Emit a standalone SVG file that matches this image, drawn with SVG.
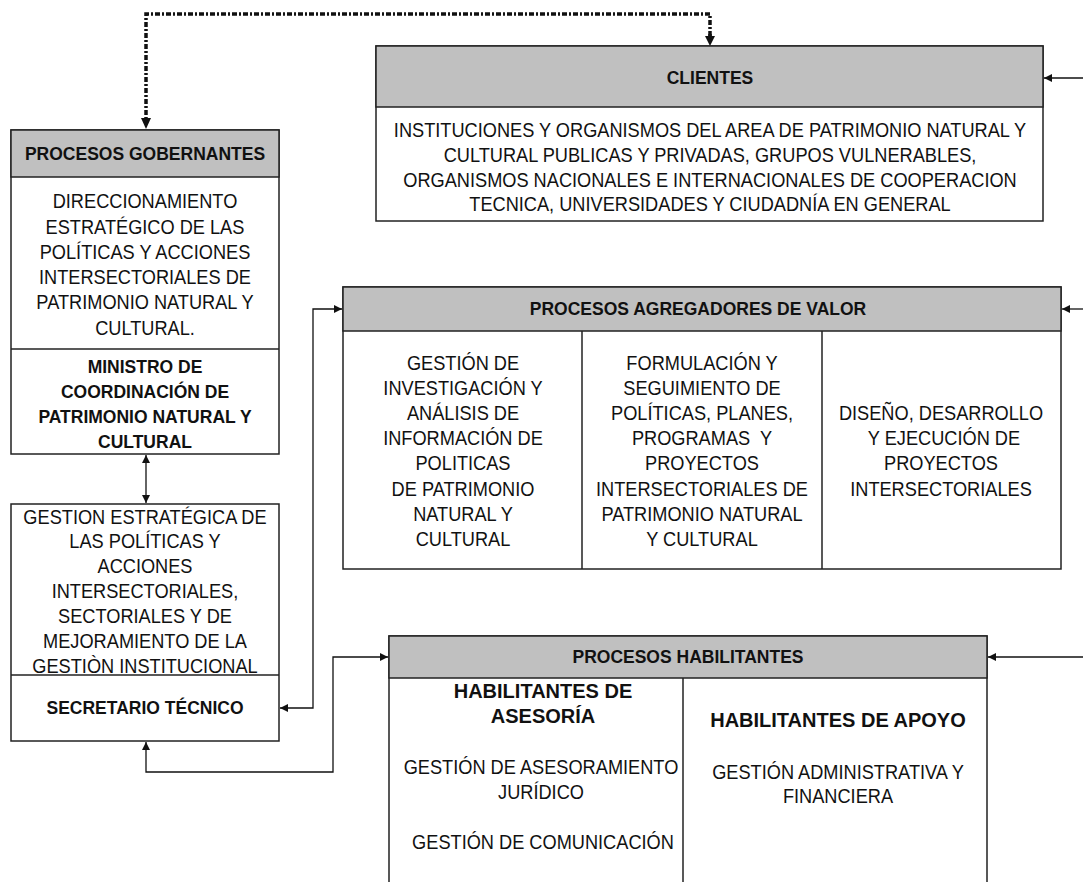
<svg xmlns="http://www.w3.org/2000/svg" width="1083" height="882" viewBox="0 0 1083 882">
  <style>
    .box { fill: #ffffff; stroke: #222222; stroke-width: 1.5; }
    .head { fill: #c0c0c0; stroke: #222222; stroke-width: 1.5; }
    .rule { stroke: #222222; stroke-width: 1.5; fill: none; }
    .hd { font-family: "Liberation Sans", Arial, sans-serif; font-weight: bold; font-size: 17.5px; fill: #111111; text-anchor: middle; }
    .bd { font-family: "Liberation Sans", Arial, sans-serif; font-size: 20px; fill: #111111; text-anchor: middle;
          transform: scaleX(0.91); transform-box: fill-box; transform-origin: center; }
    .bb { font-family: "Liberation Sans", Arial, sans-serif; font-weight: bold; font-size: 20px; fill: #111111; text-anchor: middle; }
    .link { fill: none; stroke: #111111; stroke-width: 1.3; }
    .dash { fill: none; stroke: #111111; stroke-width: 3.5; stroke-dasharray: 5 2 2 2; }
  </style>
  <defs>
    <marker id="tip" viewBox="0 0 10 10" refX="10" refY="5" markerWidth="8" markerHeight="8" markerUnits="userSpaceOnUse" orient="auto-start-reverse">
      <path d="M0,0 L10,5 L0,10 z" fill="#111111"/>
    </marker>
    <marker id="tipBig" viewBox="0 0 10 10" refX="10" refY="5" markerWidth="10" markerHeight="10" markerUnits="userSpaceOnUse" orient="auto">
      <path d="M0,0 L10,5 L0,10 z" fill="#111111"/>
    </marker>
  </defs>

  <!-- connectors -->
  <g id="connectors">
    <path class="dash" d="M710,36 V14 H146 V118"/>
    <path d="M141,118 H151 L146,129 z" fill="#111111"/>
    <line class="dash" x1="710" y1="34" x2="710" y2="38"/>
    <path d="M705,36 H715 L710,46 z" fill="#111111"/>
    <line class="link" x1="1083" y1="78" x2="1044" y2="78" marker-end="url(#tip)"/>
    <line class="link" x1="1083" y1="309" x2="1062" y2="309" marker-end="url(#tip)"/>
    <line class="link" x1="1083" y1="657" x2="988" y2="657" marker-end="url(#tip)"/>
    <line class="link" x1="146" y1="455" x2="146" y2="503" marker-start="url(#tip)" marker-end="url(#tip)"/>
    <path class="link" d="M280,708 H313 V309 H342" marker-start="url(#tip)" marker-end="url(#tip)"/>
    <path class="link" d="M146,742 V772 H333 V657 H388" marker-start="url(#tip)" marker-end="url(#tip)"/>
  </g>

  <!-- governing processes -->
  <g id="gobernantes">
    <rect class="box" x="11" y="130" width="268" height="324"/>
    <rect class="head" x="11" y="130" width="268" height="47"/>
    <line class="rule" x1="11" y1="349" x2="279" y2="349"/>
    <text class="hd" x="145" y="160">PROCESOS GOBERNANTES</text>
    <text class="bd" x="145" y="208">DIRECCIONAMIENTO</text>
    <text class="bd" x="145" y="234">ESTRATÉGICO DE LAS</text>
    <text class="bd" x="145" y="259">POLÍTICAS Y ACCIONES</text>
    <text class="bd" x="145" y="284">INTERSECTORIALES DE</text>
    <text class="bd" x="145" y="309">PATRIMONIO NATURAL Y</text>
    <text class="bd" x="145" y="335">CULTURAL.</text>
    <text class="hd" x="145" y="373">MINISTRO DE</text>
    <text class="hd" x="145" y="398">COORDINACIÓN DE</text>
    <text class="hd" x="145" y="423">PATRIMONIO NATURAL Y</text>
    <text class="hd" x="145" y="448">CULTURAL</text>
  </g>

  <!-- technical secretary -->
  <g id="secretario">
    <rect class="box" x="11" y="504" width="268" height="237"/>
    <line class="rule" x1="11" y1="675" x2="279" y2="675"/>
    <text class="bd" x="145" y="524">GESTION ESTRATÉGICA DE</text>
    <text class="bd" x="145" y="548">LAS POLÍTICAS Y</text>
    <text class="bd" x="145" y="573">ACCIONES</text>
    <text class="bd" x="145" y="598">INTERSECTORIALES,</text>
    <text class="bd" x="145" y="623">SECTORIALES Y DE</text>
    <text class="bd" x="145" y="648">MEJORAMIENTO DE LA</text>
    <text class="bd" x="145" y="673">GESTIÒN INSTITUCIONAL</text>
    <text class="hd" x="145" y="714">SECRETARIO TÉCNICO</text>
  </g>

  <!-- clients -->
  <g id="clientes">
    <rect class="box" x="376" y="46" width="667" height="175"/>
    <rect class="head" x="376" y="46" width="667" height="61"/>
    <text class="hd" x="710" y="84">CLIENTES</text>
    <text class="bd" x="710" y="137">INSTITUCIONES Y ORGANISMOS DEL AREA DE PATRIMONIO NATURAL Y</text>
    <text class="bd" x="710" y="162">CULTURAL PUBLICAS Y PRIVADAS, GRUPOS VULNERABLES,</text>
    <text class="bd" x="710" y="187">ORGANISMOS NACIONALES E INTERNACIONALES DE COOPERACION</text>
    <text class="bd" x="710" y="211">TECNICA, UNIVERSIDADES Y CIUDADNÍA EN GENERAL</text>
  </g>

  <!-- value-adding processes -->
  <g id="agregadores">
    <rect class="box" x="343" y="287" width="718" height="282"/>
    <rect class="head" x="343" y="287" width="718" height="44"/>
    <line class="rule" x1="582" y1="331" x2="582" y2="569"/>
    <line class="rule" x1="822" y1="331" x2="822" y2="569"/>
    <text class="hd" x="698" y="315">PROCESOS AGREGADORES DE VALOR</text>
    <text class="bd" x="463" y="370">GESTIÓN DE</text>
    <text class="bd" x="463" y="395">INVESTIGACIÓN Y</text>
    <text class="bd" x="463" y="420">ANÁLISIS DE</text>
    <text class="bd" x="463" y="445">INFORMACIÓN DE</text>
    <text class="bd" x="463" y="470">POLITICAS</text>
    <text class="bd" x="463" y="496">DE PATRIMONIO</text>
    <text class="bd" x="463" y="521">NATURAL Y</text>
    <text class="bd" x="463" y="546">CULTURAL</text>
    <text class="bd" x="702" y="370">FORMULACIÓN Y</text>
    <text class="bd" x="702" y="395">SEGUIMIENTO DE</text>
    <text class="bd" x="702" y="420">POLÍTICAS, PLANES,</text>
    <text class="bd" x="702" y="445" xml:space="preserve">PROGRAMAS  Y</text>
    <text class="bd" x="702" y="470">PROYECTOS</text>
    <text class="bd" x="702" y="496">INTERSECTORIALES DE</text>
    <text class="bd" x="702" y="521">PATRIMONIO NATURAL</text>
    <text class="bd" x="702" y="546">Y CULTURAL</text>
    <text class="bd" x="941" y="420">DISEÑO, DESARROLLO</text>
    <text class="bd" x="944" y="445">Y EJECUCIÓN DE</text>
    <text class="bd" x="941" y="470">PROYECTOS</text>
    <text class="bd" x="941" y="496">INTERSECTORIALES</text>
  </g>

  <!-- enabling processes -->
  <g id="habilitantes">
    <path class="rule" d="M389,882 V636 H987 V882"/>
    <rect class="head" x="389" y="636" width="598" height="42"/>
    <line class="rule" x1="683" y1="678" x2="683" y2="882"/>
    <text class="hd" x="688" y="663">PROCESOS HABILITANTES</text>
    <text class="bb" x="543" y="698">HABILITANTES DE</text>
    <text class="bb" x="543" y="723">ASESORÍA</text>
    <text class="bd" x="541" y="774">GESTIÓN DE ASESORAMIENTO</text>
    <text class="bd" x="541" y="799">JURÍDICO</text>
    <text class="bd" x="543" y="849">GESTIÓN DE COMUNICACIÓN</text>
    <text class="bb" x="838" y="727">HABILITANTES DE APOYO</text>
    <text class="bd" x="838" y="779">GESTIÓN ADMINISTRATIVA Y</text>
    <text class="bd" x="838" y="803">FINANCIERA</text>
  </g>
</svg>
